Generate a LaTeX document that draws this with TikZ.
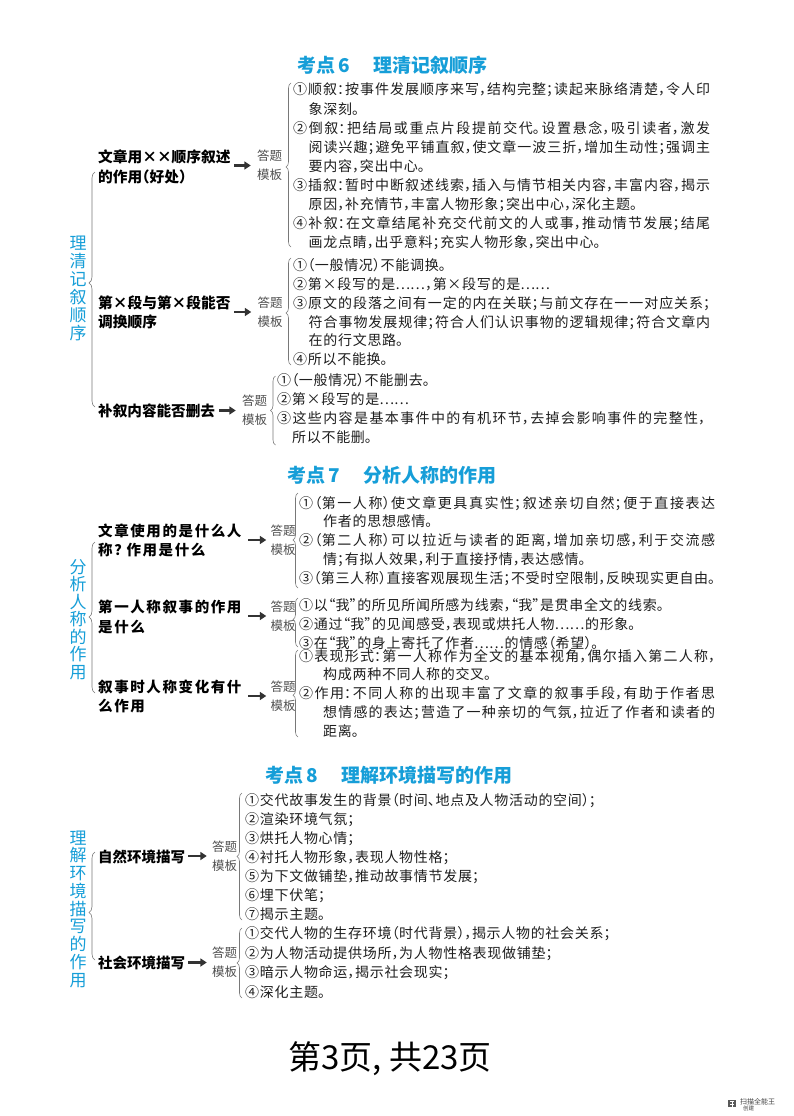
\documentclass[tikz,border=0pt]{standalone}
\usepackage{fontspec}
\usetikzlibrary{decorations.pathreplacing,arrows.meta}
\newfontfamily\cjk[RawFeature=+halt]{Noto Sans CJK SC}
\newfontfamily\cjkls[RawFeature=+halt,LetterSpace=11]{Noto Sans CJK SC}
\definecolor{cyanT}{RGB}{22,158,216}
\definecolor{txt}{RGB}{30,30,30}
\definecolor{lbl}{RGB}{80,80,80}
\definecolor{brc}{RGB}{120,120,120}
\newcommand\bodyfnt[1]{\cjk\fontsize{14}{#1}\selectfont\XeTeXlinebreaklocale "zh"\XeTeXlinebreakskip=0.7pt plus 5pt minus 0.4pt\relax\tolerance=9999\relax\parindent=0pt\parskip=0pt\relax}
\newcommand\hangit[1]{\hangindent=#1\hangafter=1\relax}
\begin{document}
\begin{tikzpicture}[x=1pt,y=-1pt,
  ttl/.style={anchor=west,inner sep=0,text=cyanT,font=\cjk\bfseries\fontsize{19}{22}\selectfont},
  vlab/.style={anchor=center,inner sep=0,align=center,text=cyanT},
  lab/.style={anchor=west,inner sep=0,align=left,text=black},
  tmpl/.style={anchor=center,inner sep=0,align=center,text=lbl,font=\cjk\fontsize{12.5}{18.8}\selectfont},
  body/.style n args={2}{anchor=west,inner sep=0,text width=#1,align=justify,text=txt,font=\bodyfnt{#2}},
  mybrace/.style n args={2}{draw=brc,line width=0.6pt,decorate,decoration={brace,amplitude=#2,aspect=#1}},
  arr/.style={draw=black!80,line width=2.6pt,-{Triangle[length=6.5pt,width=8pt]}}
]
\useasboundingbox (0,0) rectangle (794,1116);
\fill[white] (0,0) rectangle (794,1116);

% ===== Section 6 =====
\node[ttl] (h6) at (297,65) {考点\hspace{3pt}6\hspace{24pt}理清记叙顺序};
\node[vlab,font=\cjk\fontsize{17}{18}\selectfont] (v6) at (78,288) {理\\清\\记\\叙\\顺\\序};
\draw[mybrace={0.528}{6pt}] (95,407) -- (95,172);

\node[lab,font=\cjk\bfseries\fontsize{14.7}{20}\selectfont] (l6a) at (98,166.7) {文章用××顺序叙述\\的作用（好处）};
\node[tmpl] (t6a) at (269.5,165.5) {答题\\模板};
\coordinate (s6a) at (234,165.5);
\draw[arr,shorten >=6pt] (s6a) -- (t6a);
\draw[mybrace={0.488}{5pt}] (291,247) -- (291,83);
\node[body={417pt}{19.1}] (b6a) at (293,166.5) {\hangit{15.5pt}①顺叙：按事件发展顺序来写，结构完整；读起来脉络清楚，令人印\linebreak 象深刻。\par
\hangit{15.5pt}②倒叙：把结局或重点片段提前交代。设置悬念，吸引读者，激发\linebreak 阅读兴趣；避免平铺直叙，使文章一波三折，增加生动性；强调主\linebreak 要内容，突出中心。\par
\hangit{15.5pt}③插叙：暂时中断叙述线索，插入与情节相关内容，丰富内容，揭示\linebreak 原因，补充情节，丰富人物形象；突出中心，深化主题。\par
\hangit{15.5pt}④补叙：在文章结尾补充交代前文的人或事，推动情节发展；结尾\linebreak 画龙点睛，出乎意料；充实人物形象，突出中心。\par};

\node[lab,font=\cjk\bfseries\fontsize{14.7}{18.4}\selectfont] (l6b) at (98,312.5) {第×段与第×段能否\\调换顺序};
\node[tmpl] (t6b) at (270,312) {答题\\模板};
\coordinate (s6b) at (234,312);
\draw[arr,shorten >=6pt] (s6b) -- (t6b);
\draw[mybrace={0.486}{5pt}] (291,365) -- (291,258);
\node[body={417pt}{18.85}] (b6b) at (293,312.2) {\hangit{15.5pt}①（一般情况）不能调换。\par
\hangit{15.5pt}②第×段写的是……，第×段写的是……\par
\hangit{15.5pt}③原文的段落之间有一定的内在关联；与前文存在一一对应关系；\linebreak 符合事物发展规律；符合人们认识事物的逻辑规律；符合文章内\linebreak 在的行文思路。\par
\hangit{15.5pt}④所以不能换。\par};

\node[lab,font=\cjk\bfseries\fontsize{14.6}{18}\selectfont] (l6c) at (98,410.7) {补叙内容能否删去};
\node[tmpl] (t6c) at (254.5,410.5) {答题\\模板};
\coordinate (s6c) at (219,410.5);
\draw[arr,shorten >=6pt] (s6c) -- (t6c);
\draw[mybrace={0.5}{5pt}] (275.5,445) -- (275.5,376);
\node[body={428pt}{19}] (b6c) at (277,408.5) {\hangit{15pt}①（一般情况）不能删去。\par
\hangit{15pt}②第×段写的是……\par
\hangit{15pt}③这些内容是基本事件中的有机环节，去掉会影响事件的完整性，\linebreak 所以不能删。\par};

% ===== Section 7 =====
\node[ttl] (h7) at (287,475) {考点\hspace{3pt}7\hspace{24pt}分析人称的作用};
\node[vlab,font=\cjk\fontsize{17}{17.5}\selectfont] (v7) at (78,619.5) {分\\析\\人\\称\\的\\作\\用};
\draw[mybrace={0.503}{6pt}] (95,693) -- (95,542);

\node[lab,font=\cjkls\bfseries\fontsize{14.5}{19.3}\selectfont] (l7a) at (98,540.3) {文章使用的是什么人\\称？\hspace{5pt}作用是什么};
\node[tmpl] (t7a) at (283,540) {答题\\模板};
\coordinate (s7a) at (248,540);
\draw[arr,shorten >=4pt] (s7a) -- (t7a);
\draw[mybrace={0.505}{5pt}] (298,588) -- (298,493);
\node[body={416pt}{18.75}] (b7a) at (299,540.8) {\hangit{24pt}①（第一人称）使文章更具真实性；叙述亲切自然；便于直接表达\linebreak 作者的思想感情。\par
\hangit{24pt}②（第二人称）可以拉近与读者的距离，增加亲切感，利于交流感\linebreak 情；有拟人效果，利于直接抒情，表达感情。\par
\hangit{24pt}③（第三人称）直接客观展现生活；不受时空限制，反映现实更自由。\par};

\node[lab,font=\cjkls\bfseries\fontsize{14.5}{20}\selectfont] (l7b) at (98,616.7) {第一人称叙事的作用\\是什么};
\node[tmpl] (t7b) at (283,616) {答题\\模板};
\coordinate (s7b) at (248,616);
\draw[arr,shorten >=4pt] (s7b) -- (t7b);
\draw[mybrace={0.56}{5pt}] (298,647) -- (298,598);
\node[body={416pt}{19}] (b7b) at (299,624) {\hangit{24pt}①以“我”的所见所闻所感为线索，“我”是贯串全文的线索。\par
\hangit{24pt}②通过“我”的见闻感受，表现或烘托人物……的形象。\par
\hangit{24pt}③在“我”的身上寄托了作者……的情感（希望）。\par};

\node[lab,font=\cjkls\bfseries\fontsize{14.5}{19.3}\selectfont] (l7c) at (98,696.3) {叙事时人称变化有什\\么作用};
\node[tmpl] (t7c) at (283,696) {答题\\模板};
\coordinate (s7c) at (248,696);
\draw[arr,shorten >=4pt] (s7c) -- (t7c);
\draw[mybrace={0.48}{5pt}] (298,737) -- (298,650);
\node[body={416pt}{18.75}] (b7c) at (299,693.2) {\hangit{24pt}①表现形式：第一人称作为全文的基本视角，偶尔插入第二人称，\linebreak 构成两种不同人称的交叉。\par
\hangit{24pt}②作用：不同人称的出现丰富了文章的叙事手段，有助于作者思\linebreak 想情感的表达；营造了一种亲切的气氛，拉近了作者和读者的\linebreak 距离。\par};

% ===== Section 8 =====
\node[ttl] (h8) at (265,775) {考点\hspace{3pt}8\hspace{24pt}理解环境描写的作用};
\node[vlab,font=\cjk\fontsize{17}{17.75}\selectfont] (v8) at (78,909) {理\\解\\环\\境\\描\\写\\的\\作\\用};
\draw[mybrace={0.44}{6pt}] (95,960) -- (95,852);

\node[lab,font=\cjk\bfseries\fontsize{14.5}{18}\selectfont] (l8a) at (98,856.7) {自然环境描写};
\node[tmpl] (t8a) at (224.5,856) {答题\\模板};
\coordinate (s8a) at (188,856);
\draw[arr,shorten >=5pt] (s8a) -- (t8a);
\draw[mybrace={0.5}{5pt}] (242,920) -- (242,793);
\node[body={420pt}{19}] (b8a) at (245,857) {①交代故事发生的背景（时间、地点及人物活动的空间）；\par
②渲染环境气氛；\par
③烘托人物心情；\par
④衬托人物形象，表现人物性格；\par
⑤为下文做铺垫，推动故事情节发展；\par
⑥埋下伏笔；\par
⑦揭示主题。\par};

\node[lab,font=\cjk\bfseries\fontsize{14.5}{18}\selectfont] (l8b) at (98,962.7) {社会环境描写};
\node[tmpl] (t8b) at (224.5,962.5) {答题\\模板};
\coordinate (s8b) at (188,962.5);
\draw[arr,shorten >=5pt] (s8b) -- (t8b);
\draw[mybrace={0.5}{5pt}] (242,998) -- (242,928);
\node[body={420pt}{19.5}] (b8b) at (245,962.5) {①交代人物的生存环境（时代背景），揭示人物的社会关系；\par
②为人物活动提供场所，为人物性格表现做铺垫；\par
③暗示人物命运，揭示社会现实；\par
④深化主题。\par};

% ===== Footer =====
\node[anchor=center,inner sep=0,font=\cjk\fontsize{33}{36}\selectfont] (foot) at (390,1059) {第3页, 共23页};
\fill[black!65] (728,1100) rectangle (736,1107);
\draw[white,line width=0.6pt] (730,1101.5) -- (734,1101.5) (730,1104) -- (734,1104) (732,1100.5) -- (732,1106.5);
\node[anchor=west,inner sep=0,text=black!75,font=\cjk\fontsize{7}{8}\selectfont] (wm1) at (740,1101.5) {扫描全能王};
\node[anchor=west,inner sep=0,text=black!75,font=\cjk\fontsize{5.5}{6}\selectfont] (wm2) at (743,1108.5) {创建};
\end{tikzpicture}
\end{document}
